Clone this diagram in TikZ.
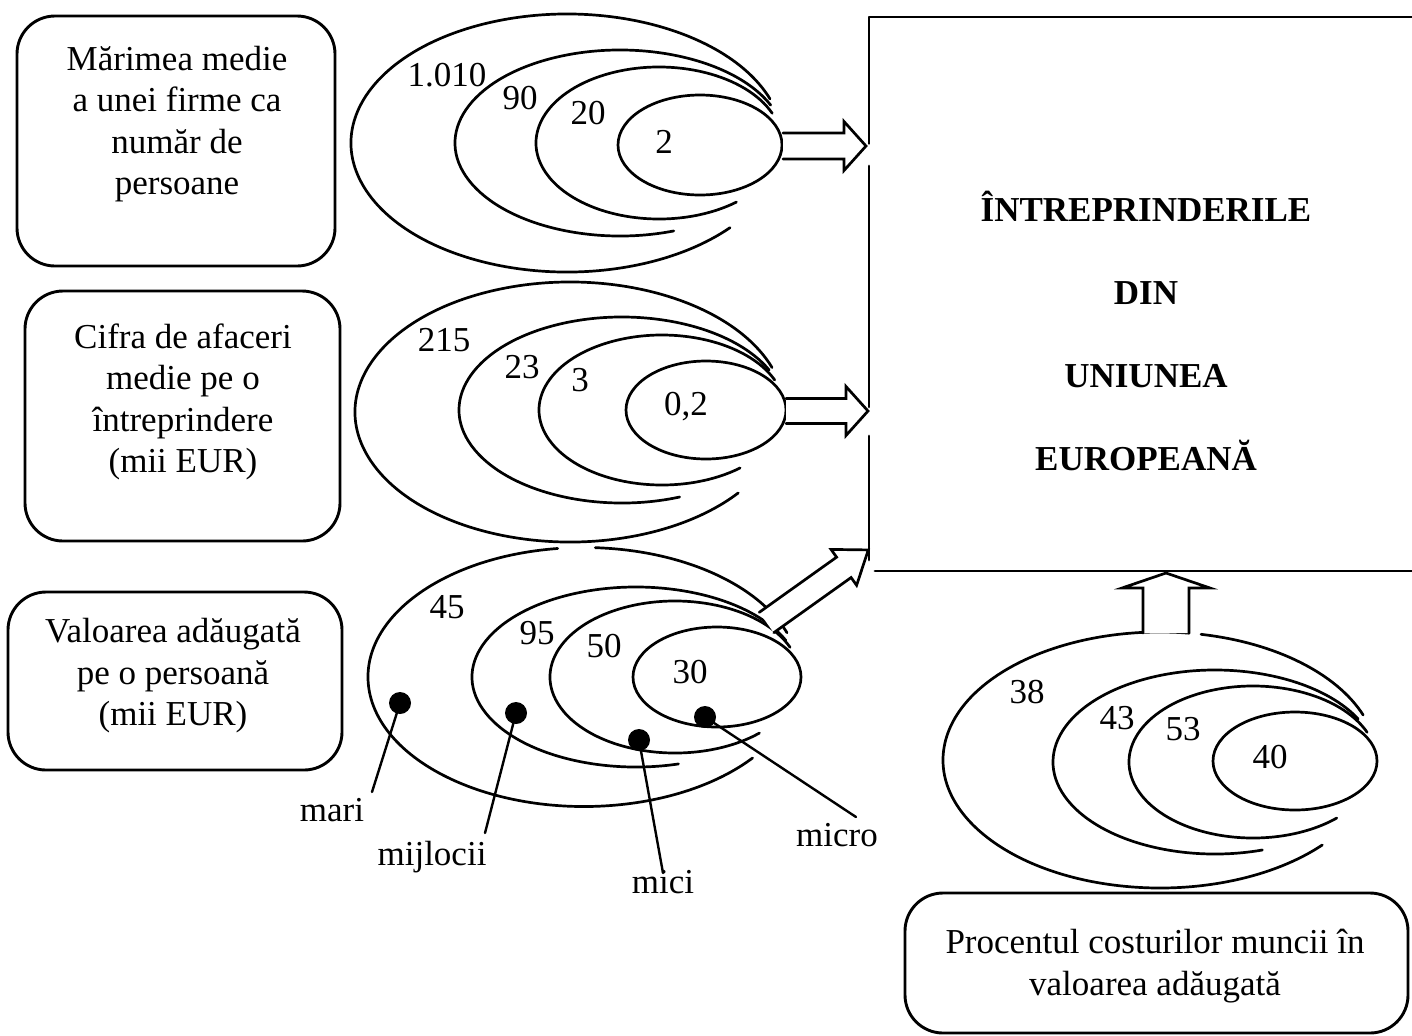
\documentclass[tikz,border=0pt]{standalone}
\usepackage{fontspec}
\setmainfont{Liberation Serif}
% open elliptic arc: [options]{cx}{cy}{x radius}{y radius}{from}{to}, angles counter-clockwise on the page
\newcommand\ringarc[7][]{%
  \draw[ring,#1] (#2,#3) ++(-#6:#4 and #5) arc[start angle=-#6, end angle=-#7, x radius=#4, y radius=#5];}
% hollow block arrow: {base x}{base y}{angle}{length}{shaft half-width}{head half-width}{head length}
\newcommand\blockarrow[7]{%
  \draw[blockarrow, shift={(#1,#2)}, rotate=#3]
    (0,-#5) -- (#4-#7,-#5) -- (#4-#7,-#6) -- (#4,0) -- (#4-#7,#6) -- (#4-#7,#5) -- (0,#5);}
\begin{document}
\begin{tikzpicture}[x=0.5pt, y=-0.5pt, line cap=round, line join=round,
  box/.style={draw, rounded corners=19pt, line width=1.45pt, inner sep=0pt},
  txt/.style={font=\fontsize{17.5}{20.75}\selectfont, align=center, inner sep=0pt},
  title/.style={font=\fontsize{17.5}{41.5}\selectfont\bfseries, align=center, inner sep=0pt},
  ring/.style={line width=1.35pt},
  frame/.style={line width=1.45pt},
  blockarrow/.style={draw, fill=white, line width=1.35pt, line join=miter},
  dot/.style={circle, fill=black, inner sep=0pt, minimum size=11pt},
  leader/.style={line width=1.2pt}]
\useasboundingbox (0,0) rectangle (1412,1035);

% ---------- captions on the left ----------
\node[box, minimum width=159pt, minimum height=125pt] (b1) at (176,141) {};
\node[txt] (t1) at (177,124) {Mărimea medie\\a unei firme ca\\număr de\\persoane};
\node[box, minimum width=157.5pt, minimum height=125pt] (b2) at (182.5,416) {};
\node[txt] (t2) at (183,402) {Cifra de afaceri\\medie pe o\\întreprindere\\(mii EUR)};
\node[box, minimum width=167pt, minimum height=89pt] (b3) at (175,681) {};
\node[txt] (t3) at (173,676) {Valoarea adăugată\\pe o persoană\\(mii EUR)};
\node[box, minimum width=251.5pt, minimum height=70pt] (b4) at (1156.5,963) {};
\node[txt] (t4) at (1155,966) {Procentul costurilor muncii în\\valoarea adăugată};

% ---------- target frame (open on the right) ----------
\node[title] (eu) at (1146,331) {ÎNTREPRINDERILE\\DIN\\UNIUNEA\\EUROPEANĂ};
\coordinate (fnw) at (869,17);
\coordinate (fne) at (1416,17);
\coordinate (fsw) at (875,571);
\coordinate (fse) at (1416,571);
\draw[frame] (869,143.5) -- (fnw) -- (fne);
\draw[frame] (869,166) -- (869,407);
\draw[frame] (869,436) -- (869,560);
\draw[frame] (fsw) -- (fse);

% ---------- size rings: persons per firm ----------
\ringarc{567}{143}{216}{129}{20}{319}
\ringarc{620}{143}{165}{93}{24}{289}
\ringarc{659}{143}{123}{76}{23}{309}
\draw[ring] (700,145) ellipse[x radius=82, y radius=50];
\node[txt] at (447,75) {1.010};
\node[txt] at (520,98) {90};
\node[txt] at (588,113) {20};
\node[txt] at (664,142) {2};
\blockarrow{783}{146}{0}{83}{13}{24.5}{22}

% ---------- size rings: turnover ----------
\ringarc{570}{412}{215}{130}{20}{321.5}
\ringarc{622}{410}{163}{93}{25.5}{290.7}
\ringarc{662}{410}{123}{75}{23.6}{309.4}
\draw[ring] (706,410) ellipse[x radius=80, y radius=49];
\node[txt] at (444,340) {215};
\node[txt] at (522,367) {23};
\node[txt] at (580,380) {3};
\node[txt] at (686,407) {0,2};
\blockarrow{786}{411}{0}{82}{12.5}{24.5}{22}

% ---------- size rings: value added ----------
\ringarc{584}{677}{216}{129.5}{20}{87}
\ringarc{584}{677}{216}{129.5}{97}{321.3}
\ringarc{636}{677}{164}{90}{24}{285}
\ringarc{675}{677}{125}{76}{23}{312.5}
\draw[ring] (717,677) ellipse[x radius=84, y radius=50];
\node[txt] at (447,607) {45};
\node[txt] at (537,633) {95};
\node[txt] at (604,646) {50};
\node[txt] at (690,672) {30};
\blockarrow{766.5}{622.5}{35.5}{125}{12.5}{22}{30}

% class markers
\node[dot] (dmari) at (400,703) {};
\node[dot] (dmij) at (516,713) {};
\node[dot] (dmici) at (639,740) {};
\node[dot] (dmicro) at (705,717) {};
\node[txt] (lmari) at (332,810) {mari};
\node[txt] (lmij) at (432,857) {mijlocii};
\node[txt] (lmici) at (663,882) {mici};
\node[txt] (lmicro) at (837,835) {micro};
\coordinate (emari) at (372,792);
\coordinate (emij) at (485,833);
\coordinate (emici) at (663,873);
\coordinate (emicro) at (856,817);
\draw[leader] (dmari.center) -- (emari);
\draw[leader] (dmij.center) -- (emij);
\draw[leader] (dmici.center) -- (emici);
\draw[leader] (dmicro.center) -- (emicro);

% ---------- size rings: labour cost share ----------
\ringarc{1160}{760}{217}{128}{20.6}{79.1}
\ringarc{1160}{760}{217}{128}{82.3}{318.4}
\ringarc{1215}{762}{162}{92}{28}{287}
\ringarc{1253}{762}{124}{76}{23}{312.5}
\draw[ring] (1295,761) ellipse[x radius=82, y radius=49];
\node[txt] at (1027,692) {38};
\node[txt] at (1117,718) {43};
\node[txt] at (1183,729) {53};
\node[txt] at (1270,757) {40};
\blockarrow{1166}{633}{90}{60}{23}{44}{15}
\end{tikzpicture}
\end{document}
